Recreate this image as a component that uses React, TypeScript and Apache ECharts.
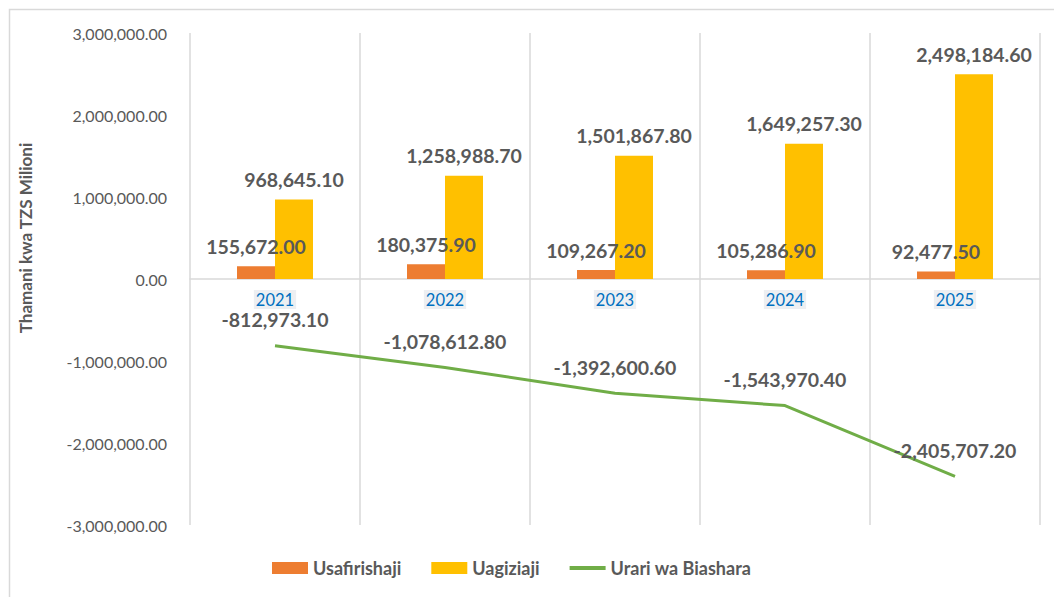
import React, { useEffect, useRef } from "react";
import * as echarts from "echarts";

const years = ["2021", "2022", "2023", "2024", "2025"];
const usafirishaji = [155672.0, 180375.9, 109267.2, 105286.9, 92477.5];
const uagiziaji = [968645.1, 1258988.7, 1501867.8, 1649257.3, 2498184.6];
const urari = [-812973.1, -1078612.8, -1392600.6, -1543970.4, -2405707.2];
const seriesNames = ["Usafirishaji", "Uagiziaji", "Urari wa Biashara"];
const yAxisTitle = "Thamani kwa TZS Milioni";

const fmt = (v: number) =>
  v.toLocaleString("en-US", { minimumFractionDigits: 2, maximumFractionDigits: 2 });

const FONT = "Lato, 'Open Sans', sans-serif";

export default function App() {
  const ref = useRef<HTMLDivElement>(null);
  useEffect(() => {
    document.body.style.margin = "0";
    const chart = echarts.init(ref.current!, undefined, { renderer: "svg" });
    const labelStyle = {
      show: true,
      position: "top" as const,
      fontFamily: FONT,
      fontWeight: "bold" as const,
      fontSize: 19.5,
      color: "#595959",
      formatter: (p: any) => fmt(p.value),
    };
    chart.setOption({
      animation: false,
      backgroundColor: "#fff",
      textStyle: { fontFamily: FONT },
      grid: { left: 190, right: 14, top: 33, bottom: 72, containLabel: false },
      graphic: [
        {
          type: "rect",
          shape: { x: 9.5, y: 9.5, width: 1200, height: 800 },
          style: { fill: "none", stroke: "#D9D9D9", lineWidth: 1.5 },
          silent: true,
          z: -10,
        },
        {
          type: "text",
          x: 25,
          y: 238,
          rotation: Math.PI / 2,
          style: {
            text: yAxisTitle,
            fontFamily: FONT,
            fontWeight: "bold",
            fontSize: 17,
            fill: "#595959",
            align: "center",
            verticalAlign: "middle",
          },
        },
      ],
      legend: {
        bottom: 15,
        left: 267,
        itemGap: 30,
        itemWidth: 36,
        itemHeight: 12,
        textStyle: { fontFamily: FONT, fontSize: 18, color: "#595959", fontWeight: "bold" },
        data: [
          { name: seriesNames[0], icon: "rect" },
          { name: seriesNames[1], icon: "rect" },
          { name: seriesNames[2], icon: "path://M0,0 L36,0 L36,4 L0,4 Z" },
        ],
      },
      xAxis: {
        type: "category",
        data: years,
        position: "bottom",
        offset: -246,
        axisLine: { onZero: false, lineStyle: { color: "#D9D9D9", width: 1.5 } },
        axisTick: { show: false },
        splitLine: { show: true, lineStyle: { color: "#D9D9D9", width: 1.5 } },
        axisLabel: {
          fontFamily: FONT,
          fontSize: 16.5,
          color: "#0070C0",
          backgroundColor: "#EDEFF2",
          padding: [1, 2],
          margin: 11,
        },
      },
      yAxis: {
        type: "value",
        min: -3000000,
        max: 3000000,
        interval: 1000000,
        axisLine: { show: false },
        axisTick: { show: false },
        splitLine: { show: false },
        axisLabel: {
          fontFamily: FONT,
          fontSize: 16,
          color: "#595959",
          margin: 23,
          formatter: (v: number) => fmt(v),
        },
      },
      series: [
        {
          name: seriesNames[0],
          type: "bar",
          data: usafirishaji,
          barWidth: 38,
          barGap: "0%",
          itemStyle: { color: "#ED7D31" },
          label: { ...labelStyle, distance: 10 },
        },
        {
          name: seriesNames[1],
          type: "bar",
          data: uagiziaji,
          barWidth: 38,
          barGap: "0%",
          itemStyle: { color: "#FFC000" },
          label: { ...labelStyle, distance: 10 },
        },
        {
          name: seriesNames[2],
          type: "line",
          data: urari,
          symbol: "circle",
          symbolSize: 0,
          showSymbol: true,
          lineStyle: { color: "#70AD47", width: 3 },
          itemStyle: { color: "#70AD47" },
          label: { ...labelStyle, distance: 16 },
        },
      ],
    });
    return () => chart.dispose();
  }, []);
  return <div ref={ref} style={{ width: 1054, height: 597 }} />;
}
